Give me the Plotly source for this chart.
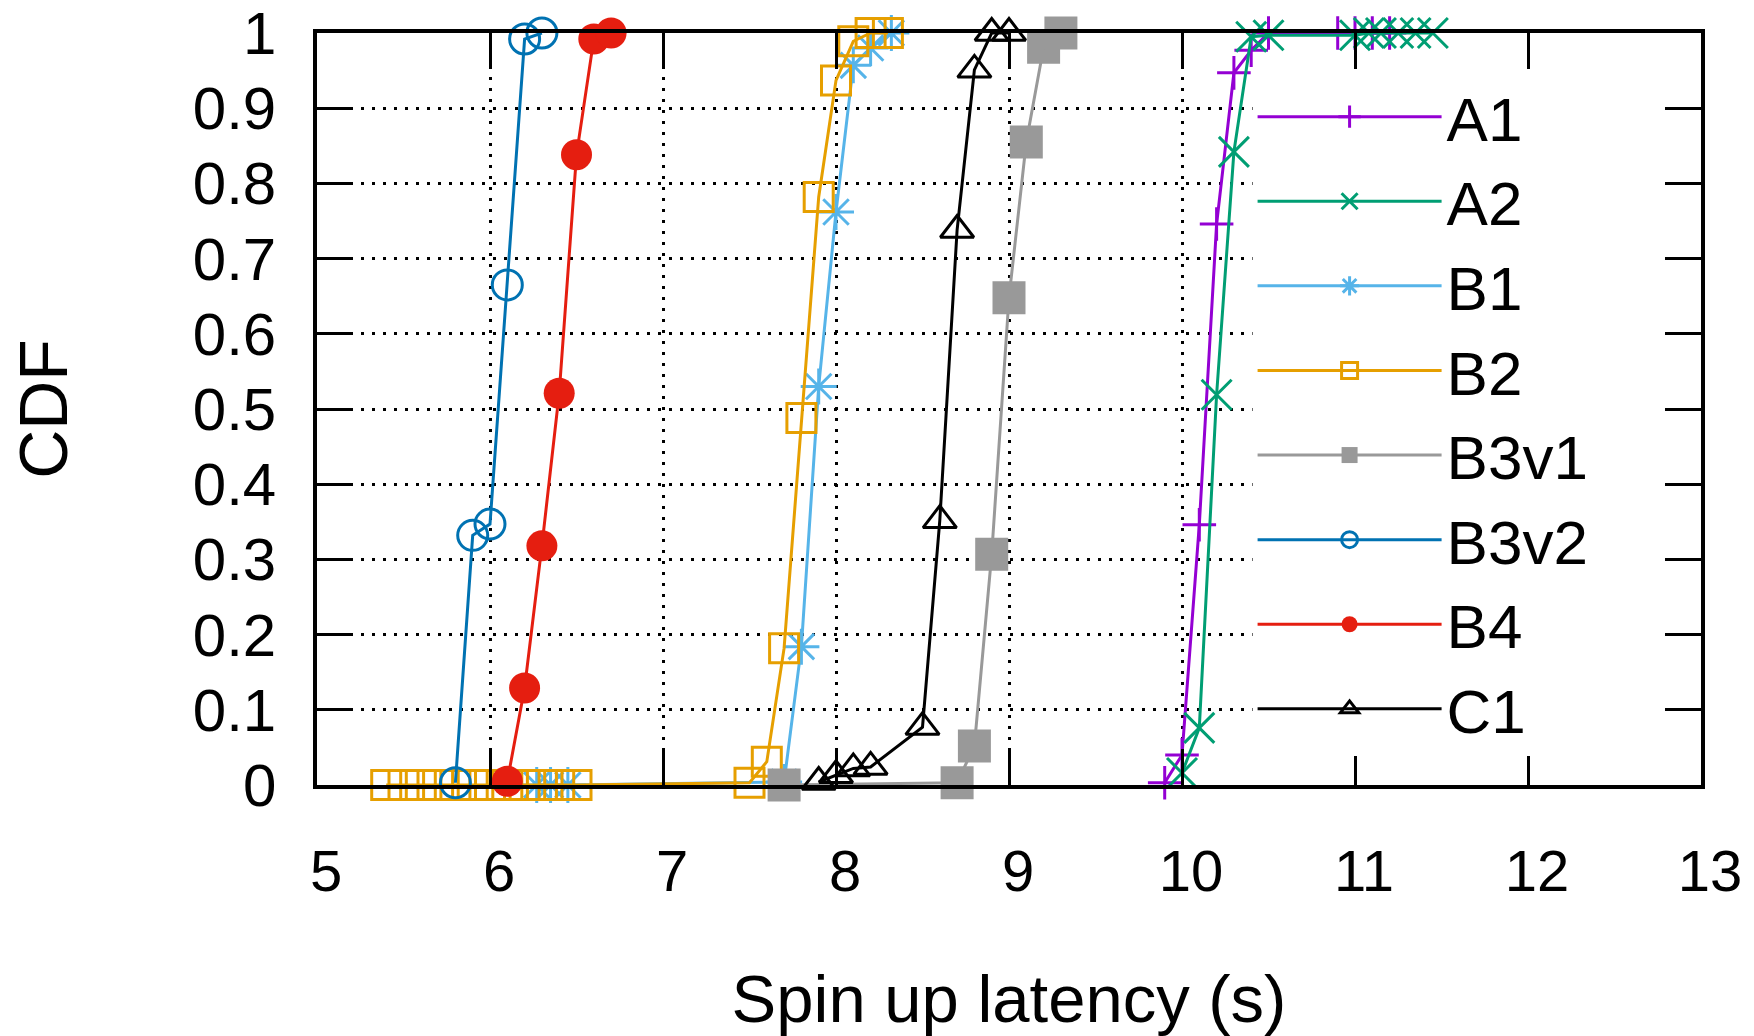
import plotly.graph_objects as go

# ---- data ----
A1_x = [9.90, 10.00, 10.10, 10.20, 10.30, 10.40, 10.50, 10.90, 11.00, 11.10, 11.20]
A1_y = [0.003, 0.040, 0.346, 0.746, 0.947, 0.977, 1.000, 1.000, 1.000, 1.000, 1.000]

A2_x = [10.00, 10.10, 10.20, 10.30, 10.40, 10.50, 11.00, 11.08, 11.15, 11.25, 11.35, 11.45]
A2_y = [0.016, 0.076, 0.519, 0.842, 0.995, 0.997, 0.997, 1.000, 1.000, 1.000, 1.000, 1.000]

B1_x = [6.27, 6.35, 6.45, 7.70, 7.80, 7.90, 8.00, 8.10, 8.20, 8.32]
B1_y = [0.000, 0.000, 0.000, 0.004, 0.184, 0.530, 0.762, 0.957, 0.980, 1.000]

B2_x = [5.40, 5.50, 5.60, 5.70, 5.80, 5.90, 6.00, 6.10, 6.20, 6.30, 6.40, 6.50,
        7.50, 7.60, 7.70, 7.80, 7.90, 8.00, 8.10, 8.20, 8.30]
B2_y = [0.000, 0.000, 0.000, 0.000, 0.000, 0.000, 0.000, 0.000, 0.000, 0.000, 0.000, 0.000,
        0.003, 0.031, 0.182, 0.488, 0.782, 0.937, 0.989, 1.000, 1.000]

B3v1_x = [7.70, 8.70, 8.80, 8.90, 9.00, 9.10, 9.20, 9.30]
B3v1_y = [0.000, 0.003, 0.052, 0.307, 0.648, 0.855, 0.981, 1.000]

B3v2_x = [5.80, 5.90, 6.00, 6.10, 6.20, 6.30]
B3v2_y = [0.003, 0.332, 0.347, 0.665, 0.992, 1.000]

B4_x = [6.10, 6.20, 6.30, 6.40, 6.50, 6.60, 6.70]
B4_y = [0.005, 0.129, 0.318, 0.521, 0.838, 0.992, 1.000]

C1_x = [7.90, 8.00, 8.10, 8.20, 8.50, 8.60, 8.70, 8.80, 8.90, 9.00]
C1_y = [0.004, 0.013, 0.022, 0.024, 0.077, 0.352, 0.738, 0.951, 1.000, 1.000]

x_ticks = [5, 6, 7, 8, 9, 10, 11, 12, 13]
y_ticks = [0, 0.1, 0.2, 0.3, 0.4, 0.5, 0.6, 0.7, 0.8, 0.9, 1]
y_tick_labels = ["0", "0.1", "0.2", "0.3", "0.4", "0.5", "0.6", "0.7", "0.8", "0.9", "1"]

series = [
    ("A1", A1_x, A1_y, "#9400D3", "cross-thin", 24),
    ("A2", A2_x, A2_y, "#009E73", "x-thin", 30),
    ("B1", B1_x, B1_y, "#56B4E9", "asterisk-open", 30),
    ("B2", B2_x, B2_y, "#E69F00", "square-open", 29),
    ("B3v1", B3v1_x, B3v1_y, "#999999", "square", 33),
    ("B3v2", B3v2_x, B3v2_y, "#0072B2", "circle-open", 30),
    ("B4", B4_x, B4_y, "#E51E10", "circle", 31),
    ("C1", C1_x, C1_y, "#000000", "triangle-up-open", 29),
]

FONT = "Liberation Sans, Arial, Helvetica, sans-serif"

fig = go.Figure()
for i, (name, xs, ys, col, sym, sz) in enumerate(series):
    filled = sym in ("square", "circle")
    fig.add_trace(go.Scatter(
        x=xs, y=ys, name=name, mode="lines+markers",
        line=dict(color=col, width=3),
        marker=dict(symbol=sym, size=sz, color=col,
                    line=dict(color=col, width=0 if filled else 3)),
        cliponaxis=False,
        legendgroup=name,
    ))

axis_common = dict(
    showline=True, linecolor="black", linewidth=3.5, mirror="allticks",
    ticks="inside", ticklen=36, tickwidth=3, tickcolor="black",
    showgrid=True, gridcolor="black", gridwidth=2.5, griddash="3px,8px",
    zeroline=False, automargin=False,
)

fig.update_xaxes(range=[5, 13], tickvals=x_ticks, ticktext=[str(v) for v in x_ticks],
                 tickfont=dict(family=FONT, size=58, color="black"),
                 title=dict(text="Spin up latency (s)", font=dict(family=FONT, size=67, color="black"),
                            standoff=78),
                 ticklabelstandoff=33, ticklabelshift=9, **axis_common)
fig.update_yaxes(range=[0, 1], tickvals=y_ticks, ticktext=y_tick_labels,
                 tickfont=dict(family=FONT, size=60, color="black"),
                 title=dict(text="CDF", font=dict(family=FONT, size=68, color="black"), standoff=104),
                 ticklabelstandoff=25, **axis_common)

# opaque key box (hides the grid behind the key, as in the reference)
fig.add_shape(type="rect", xref="paper", yref="paper",
              x0=0.676, x1=0.9733, y0=0.048, y1=0.9375,
              fillcolor="white", line=dict(width=0), layer="above")

fig.update_layout(
    width=1754, height=1036,
    margin=dict(l=317, r=53, t=33, b=251),
    paper_bgcolor="white", plot_bgcolor="white",
    font=dict(family=FONT, color="black"),
    showlegend=True,
    legend=dict(x=0.676, y=0.951, xanchor="left", yanchor="top",
                bgcolor="white", borderwidth=0,
                font=dict(family=FONT, size=62, color="black"),
                itemwidth=184, tracegroupgap=1, itemsizing="trace"),
)

fig.write_html("out.html")
